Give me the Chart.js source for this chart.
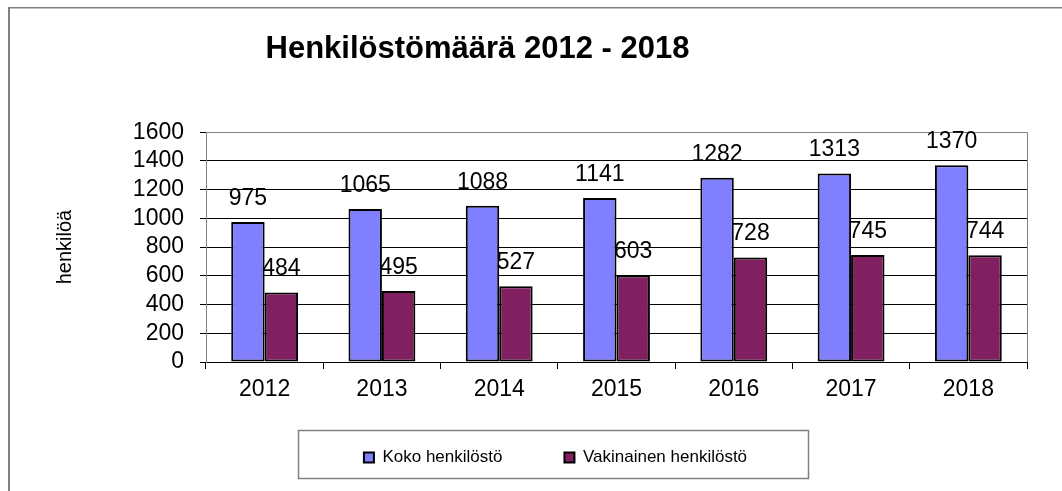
<!DOCTYPE html>
<html>
<head>
<meta charset="utf-8">
<script src="https://cdn.jsdelivr.net/npm/chart.js@4/dist/chart.umd.min.js"></script>
<style>
  html, body { margin: 0; padding: 0; background: #fff; }
  canvas { display: block; }
</style>
</head>
<body>
<canvas id="staffChart" width="1062" height="491"></canvas>
<script>
const years = ['2012', '2013', '2014', '2015', '2016', '2017', '2018'];
const kokoHenkilosto = [975, 1065, 1088, 1141, 1282, 1313, 1370];
const vakinainenHenkilosto = [484, 495, 527, 603, 728, 745, 744];
const yMax = 1600;
const yStep = 200;

Chart.defaults.font.family = '"Liberation Sans", Arial, sans-serif';
Chart.defaults.color = '#000';

// arvot pylväiden yläpuolelle
const valueLabels = {
    id: 'valueLabels',
    afterDatasetsDraw(chart) {
        const ctx = chart.ctx;
        ctx.save();
        ctx.font = '23px "Liberation Sans", Arial, sans-serif';
        ctx.fillStyle = '#000';
        ctx.textAlign = 'center';
        ctx.textBaseline = 'alphabetic';
        chart.data.datasets.forEach((ds, i) => {
            chart.getDatasetMeta(i).data.forEach((bar, j) => {
                ctx.fillText(ds.data[j], bar.x, bar.y - 17);
            });
        });
        ctx.restore();
    }
};

// kehykset: kaavion reunat, piirtoalueen reuna ja selitteen laatikko
const frames = {
    id: 'frames',
    afterLayout(chart) {
        const lg = chart.legend;
        const h = lg.bottom - lg.top;
        lg.left += 38;
        lg.right += 38;
        lg.top = 387;
        lg.bottom = 387 + h;
        chart.titleBlock.left -= 40;
        chart.titleBlock.right -= 40;
    },
    beforeDatasetsDraw(chart) {
        const {ctx, chartArea} = chart;
        ctx.save();
        ctx.strokeStyle = '#808080';
        ctx.lineWidth = 1;
        ctx.beginPath();
        ctx.moveTo(Math.round(chartArea.right) + 0.5, chartArea.top);
        ctx.lineTo(Math.round(chartArea.right) + 0.5, chartArea.bottom);
        ctx.stroke();
        ctx.restore();
    },
    afterDraw(chart) {
        const ctx = chart.ctx;
        ctx.save();
        ctx.fillStyle = '#808080';
        ctx.fillRect(8, 7, 2, chart.height - 7);
        ctx.fillRect(8, 7, chart.width - 8, 1.5);
        ctx.strokeStyle = '#808080';
        ctx.lineWidth = 1.5;
        ctx.strokeRect(298.5, 430.5, 510, 48);
        ctx.restore();
    }
};

const staffChart = new Chart(document.getElementById('staffChart').getContext('2d'), {
    type: 'bar',
    data: {
        labels: years,
        datasets: [{
            label: 'Koko henkilöstö',
            data: kokoHenkilosto,
            backgroundColor: '#8080FF',
            borderColor: '#000',
            borderWidth: 2,
            borderSkipped: false
        }, {
            label: 'Vakinainen henkilöstö',
            data: vakinainenHenkilosto,
            backgroundColor: '#802060',
            borderColor: '#000',
            borderWidth: 2,
            borderSkipped: false
        }]
    },
    options: {
        responsive: false,
        animation: false,
        devicePixelRatio: 1,
        categoryPercentage: 0.57,
        barPercentage: 1.0,
        layout: {
            padding: { left: 8, right: 35, top: 0, bottom: 0 }
        },
        plugins: {
            title: {
                display: true,
                text: 'Henkilöstömäärä 2012 - 2018',
                color: '#000',
                font: { size: 31, weight: 'bold' },
                padding: { top: 31, bottom: 64 }
            },
            legend: {
                position: 'bottom',
                labels: {
                    color: '#000',
                    font: { size: 17 },
                    boxWidth: 10,
                    boxHeight: 10,
                    padding: 62
                }
            },
            tooltip: { enabled: false }
        },
        scales: {
            x: {
                ticks: { color: '#000', font: { size: 23 }, padding: 7 },
                grid: {
                    drawOnChartArea: false,
                    drawTicks: true,
                    tickLength: 7,
                    tickColor: '#000',
                    offset: true
                },
                border: { color: '#000', width: 1 },
                afterFit(scale) { scale.height = 40; }
            },
            y: {
                min: 0,
                max: yMax,
                ticks: {
                    stepSize: yStep,
                    autoSkip: false,
                    color: '#000',
                    font: { size: 23 },
                    padding: 16,
                    callback: value => String(value)
                },
                grid: {
                    color: ctx => (ctx.tick && ctx.tick.value === yMax) ? '#808080' : '#000',
                    lineWidth: 1,
                    tickLength: 6,
                    tickColor: '#000'
                },
                border: { color: '#808080', width: 1 },
                title: {
                    display: true,
                    text: 'henkilöä',
                    color: '#000',
                    font: { size: 20 },
                    padding: { top: 45, bottom: 0 }
                },
                afterFit(scale) { scale.width = 198; }
            }
        }
    },
    plugins: [valueLabels, frames]
});
</script>
</body>
</html>
